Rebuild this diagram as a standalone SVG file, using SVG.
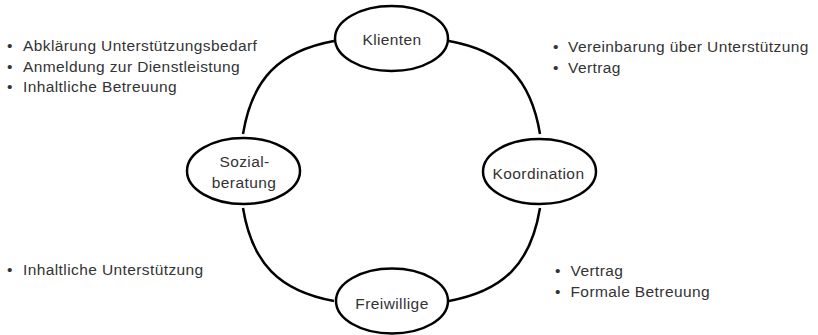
<svg xmlns="http://www.w3.org/2000/svg" width="818" height="335" viewBox="0 0 818 335">
<style>
.node{fill:#fff;stroke:#000;stroke-width:2.5}
.edge{fill:none;stroke:#000;stroke-width:2.5}
text{font-family:"Liberation Sans",Arial,sans-serif;font-size:15.5px;fill:#333;letter-spacing:0.4px}
.c{text-anchor:middle}
</style>
<rect width="818" height="335" fill="#fff"/>
<g id="connectors">
<path class="edge" d="M334,41 C279,51 252,79 243,134"/>
<path class="edge" d="M449,41 C504,51 531,79 540,134"/>
<path class="edge" d="M243,208 C252,263 279,291 334,301"/>
<path class="edge" d="M540,208 C531,263 504,291 449,301"/>
</g>
<g id="klienten">
<ellipse class="node" cx="391.5" cy="38.5" rx="56.5" ry="32.5"/>
<text class="c" x="392" y="45">Klienten</text>
</g>
<g id="sozialberatung">
<ellipse class="node" cx="243.5" cy="171" rx="56.5" ry="33"/>
<text class="c" x="244.5" y="167">Sozial-</text>
<text class="c" x="244" y="188">beratung</text>
</g>
<g id="koordination">
<ellipse class="node" cx="539.5" cy="171.5" rx="56.5" ry="32.5"/>
<text class="c" x="538.5" y="179">Koordination</text>
</g>
<g id="freiwillige">
<ellipse class="node" cx="392" cy="301" rx="56" ry="32.5"/>
<text class="c" x="392" y="309">Freiwillige</text>
</g>
<g id="notes-top-left">
<text x="7" y="51">•</text><text x="23" y="51">Abklärung Unterstützungsbedarf</text>
<text x="7" y="71.5">•</text><text x="23" y="71.5">Anmeldung zur Dienstleistung</text>
<text x="7" y="92">•</text><text x="23" y="92">Inhaltliche Betreuung</text>
</g>
<g id="notes-top-right">
<text x="553" y="52">•</text><text x="568" y="52">Vereinbarung über Unterstützung</text>
<text x="553" y="72.5">•</text><text x="568" y="72.5">Vertrag</text>
</g>
<g id="notes-bottom-left">
<text x="7" y="275">•</text><text x="23" y="275">Inhaltliche Unterstützung</text>
</g>
<g id="notes-bottom-right">
<text x="555" y="276">•</text><text x="570.5" y="276">Vertrag</text>
<text x="555" y="296.5">•</text><text x="570.5" y="296.5">Formale Betreuung</text>
</g>
</svg>
